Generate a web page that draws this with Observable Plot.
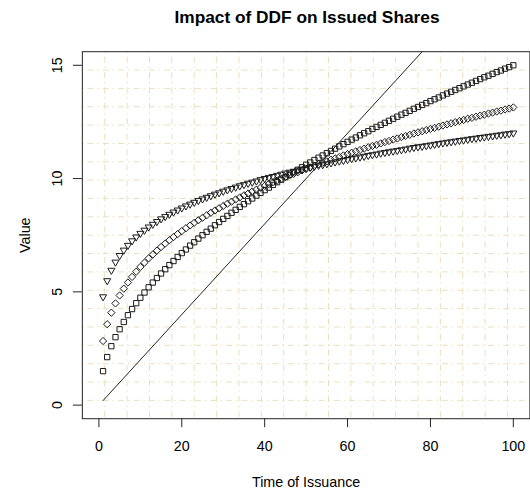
<!DOCTYPE html>
<html><head><meta charset="utf-8">
<script src="https://cdn.jsdelivr.net/npm/d3@7"></script>
<script src="https://cdn.jsdelivr.net/npm/@observablehq/plot@0.6"></script>
<style>
body{margin:0;background:#fff;overflow:hidden;font-family:"Liberation Sans",Arial,Helvetica,sans-serif;}
#wrap{width:530px;height:493px;overflow:hidden;}
#title{height:34px;line-height:34px;font-size:17.3px;font-weight:bold;text-align:center;width:450px;margin-left:82px;color:#000;white-space:nowrap;}
</style></head><body>
<div id="wrap"><div id="title">Impact of DDF on Issued Shares</div><div id="chart"></div></div>
<script>
const time = [1,2,3,4,5,6,7,8,9,10,11,12,13,14,15,16,17,18,19,20,21,22,23,24,25,26,27,28,29,30,31,32,33,34,35,36,37,38,39,40,41,42,43,44,45,46,47,48,49,50,51,52,53,54,55,56,57,58,59,60,61,62,63,64,65,66,67,68,69,70,71,72,73,74,75,76,77,78,79,80,81,82,83,84,85,86,87,88,89,90,91,92,93,94,95,96,97,98,99,100];
const squares = [1.50,2.12,2.60,3.00,3.35,3.67,3.97,4.24,4.50,4.74,4.97,5.20,5.41,5.61,5.81,6.00,6.18,6.36,6.54,6.71,6.87,7.04,7.19,7.35,7.50,7.65,7.79,7.94,8.08,8.22,8.35,8.49,8.62,8.75,8.87,9.00,9.12,9.25,9.37,9.49,9.60,9.72,9.84,9.95,10.06,10.17,10.28,10.39,10.50,10.61,10.71,10.82,10.92,11.02,11.12,11.22,11.32,11.42,11.52,11.62,11.72,11.81,11.91,12.00,12.09,12.19,12.28,12.37,12.46,12.55,12.64,12.73,12.82,12.90,12.99,13.08,13.16,13.25,13.33,13.42,13.50,13.58,13.67,13.75,13.83,13.91,13.99,14.07,14.15,14.23,14.31,14.39,14.47,14.54,14.62,14.70,14.77,14.85,14.92,15.00];
const diamonds = [2.83,3.57,4.08,4.49,4.84,5.14,5.41,5.66,5.89,6.10,6.29,6.48,6.65,6.82,6.98,7.13,7.28,7.42,7.55,7.68,7.81,7.93,8.05,8.16,8.27,8.38,8.49,8.59,8.69,8.79,8.89,8.98,9.08,9.17,9.26,9.34,9.43,9.51,9.60,9.68,9.76,9.84,9.91,9.99,10.07,10.14,10.21,10.28,10.36,10.43,10.49,10.56,10.63,10.70,10.76,10.83,10.89,10.95,11.02,11.08,11.14,11.20,11.26,11.32,11.38,11.44,11.49,11.55,11.61,11.66,11.72,11.77,11.83,11.88,11.93,11.99,12.04,12.09,12.14,12.19,12.24,12.29,12.34,12.39,12.44,12.49,12.54,12.59,12.64,12.68,12.73,12.78,12.82,12.87,12.91,12.96,13.00,13.05,13.09,13.14];
const triangles = [4.78,5.49,5.95,6.31,6.60,6.84,7.05,7.25,7.42,7.58,7.72,7.86,7.98,8.10,8.22,8.32,8.42,8.52,8.61,8.70,8.79,8.87,8.95,9.03,9.10,9.17,9.24,9.31,9.37,9.44,9.50,9.56,9.62,9.68,9.73,9.79,9.84,9.89,9.95,10.00,10.05,10.09,10.14,10.19,10.24,10.28,10.32,10.37,10.41,10.45,10.49,10.54,10.58,10.61,10.65,10.69,10.73,10.77,10.80,10.84,10.88,10.91,10.95,10.98,11.02,11.05,11.08,11.12,11.15,11.18,11.21,11.24,11.27,11.30,11.34,11.37,11.40,11.42,11.45,11.48,11.51,11.54,11.57,11.60,11.62,11.65,11.68,11.70,11.73,11.76,11.78,11.81,11.83,11.86,11.88,11.91,11.93,11.96,11.98,12.01];
const refLineX = [1, 100];
const refLineY = [0.2, 20];
const xTicks = [0, 20, 40, 60, 80, 100];
const yTicks = [0, 5, 10, 15];
const xDomain = [-4, 104];
const yDomain = [-0.6, 15.6];

const rows = arr => time.map((t, i) => ({t, v: arr[i]}));
const lineRows = refLineX.map((x, i) => ({t: x, v: refLineY[i]}));
const xGrid = d3.range(1, 20).map(k => xDomain[0] + k * (xDomain[1] - xDomain[0]) / 20);
const yGrid = d3.range(1, 20).map(k => yDomain[0] + k * (yDomain[1] - yDomain[0]) / 20);

const gridStyle = {stroke: "#ebdfba", strokeWidth: 1, strokeDasharray: "1.5,4,6,4"};
const ptStyle = {x: "t", y: "v", stroke: "#1a1a1a", strokeWidth: 1, fill: "none"};

const chart = Plot.plot({
  width: 533,
  height: 459,
  marginLeft: 82.3,
  marginRight: 0.6,
  marginTop: 17.3,
  marginBottom: 72.6,
  x: {domain: xDomain},
  y: {domain: yDomain},
  style: {fontFamily: '"Liberation Sans", Arial, Helvetica, sans-serif', fontSize: "14.4px", background: "white", color: "#000"},
  marks: [
    Plot.ruleX(xGrid, gridStyle),
    Plot.ruleY(yGrid, gridStyle),
    Plot.line(lineRows, {x: "t", y: "v", stroke: "#222", strokeWidth: 1, clip: true}),
    Plot.dot(rows(squares), {...ptStyle, symbol: "square", r: 3.0}),
    Plot.dot(rows(diamonds), {...ptStyle, symbol: "diamond2", r: 3.3}),
    Plot.dot(rows(triangles), {...ptStyle, symbol: "triangle2", r: 3.4, rotate: 180}),
    Plot.frame({stroke: "#222", strokeWidth: 1}),
    Plot.axisX({ticks: xTicks, tickSize: 9, tickPadding: 13.5, fontSize: 14.4, label: null, stroke: "#222"}),
    Plot.axisY({ticks: yTicks, tickSize: 9, tickPadding: 11, tickRotate: -90, fontSize: 14.4, label: null, stroke: "#222"}),
    Plot.text(["Time of Issuance"], {text: d => d, frameAnchor: "bottom", dy: 63.6, lineAnchor: "middle", fontSize: 14.4}),
    Plot.text(["Value"], {text: d => d, frameAnchor: "left", dx: -57.3, rotate: -90, lineAnchor: "middle", textAnchor: "middle", fontSize: 14.4})
  ]
});
document.getElementById("chart").appendChild(chart);
</script>
</body></html>
